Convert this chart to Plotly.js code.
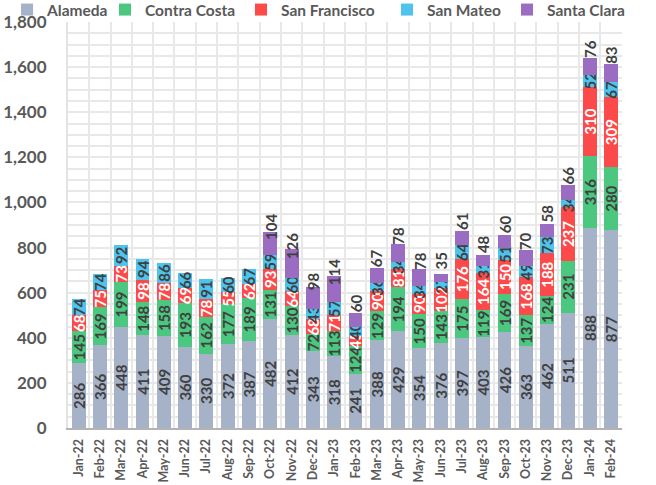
<!DOCTYPE html>
<html><head><meta charset="utf-8">
<script src="https://cdn.plot.ly/plotly-3.0.1.min.js"></script>
<style>html,body{margin:0;padding:0;background:#fff}#chart{width:656px;height:485px}</style>
</head><body><div id="chart"></div>
<script>
const months = ['Jan-22','Feb-22','Mar-22','Apr-22','May-22','Jun-22','Jul-22','Aug-22','Sep-22','Oct-22','Nov-22','Dec-22',
  'Jan-23','Feb-23','Mar-23','Apr-23','May-23','Jun-23','Jul-23','Aug-23','Sep-23','Oct-23','Nov-23','Dec-23','Jan-24','Feb-24'];
const alameda      = [286,366,448,411,409,360,330,372,387,482,412,343,318,241,388,429,354,376,397,403,426,363,462,511,888,877];
const contraCosta  = [145,169,199,148,158,193,162,177,189,131,130,72,113,124,129,194,150,143,175,119,169,137,124,231,316,280];
const sanFrancisco = [68,75,73,98,78,69,78,55,62,93,64,68,71,45,90,81,90,102,176,164,150,168,188,237,310,309];
const sanMateo     = [74,74,92,94,86,66,91,60,67,59,60,43,57,40,36,34,34,27,64,31,51,49,73,34,52,67];
const santaClara   = [null,null,null,null,null,null,null,null,null,104,126,98,114,60,67,78,78,35,61,48,60,70,58,66,76,83];

const seriesNames = ['Alameda','Contra Costa','San Francisco','San Mateo','Santa Clara'];
const series = [alameda, contraCosta, sanFrancisco, sanMateo, santaClara];
const colors = ['#a6b2c7','#4cc77f','#fc4a4a','#4dc3ee','#9a6cc2'];
const labelColors = ['#404040','#404040','#ffffff','#404040','#404040'];
const FONT = 'Lato, "Open Sans", sans-serif';
const legendX = [-0.110, 0.0668, 0.3123, 0.5758, 0.7924];
const legendIds = ['legend','legend2','legend3','legend4','legend5'];

const traces = series.map((vals, i) => {
  const t = {
    type: 'bar', name: seriesNames[i], x: months, y: vals,
    marker: {color: colors[i], line: {width: 0}},
    hoverinfo: 'skip',
    legend: legendIds[i]
  };
  if (i < 4) {
    t.text = vals.map(v => v == null ? '' : String(v));
    t.textposition = 'inside';
    t.insidetextanchor = 'middle';
    t.textangle = -90;
    t.constraintext = 'none';
    t.insidetextfont = {family: FONT, size: 15, color: labelColors[i], weight: 700};
  } else {
    t.textposition = 'none';
  }
  return t;
});

const annotations = [];
months.forEach((m, k) => {
  const v = santaClara[k];
  if (v == null) return;
  const base = alameda[k] + contraCosta[k] + sanFrancisco[k] + sanMateo[k];
  annotations.push({
    x: m, y: base + v / 2, xref: 'x', yref: 'y', yshift: 17,
    text: String(v), showarrow: false, textangle: -90,
    font: {family: FONT, size: 15, color: labelColors[4], weight: 700}
  });
});

const layout = {
  width: 656, height: 485,
  margin: {l: 68, r: 34, t: 22, b: 57, autoexpand: false},
  paper_bgcolor: '#ffffff', plot_bgcolor: '#ffffff',
  barmode: 'stack', bargap: 0.35,
  font: {family: FONT, color: '#595959'},
  showlegend: true,
  xaxis: {
    type: 'category', tickson: 'boundaries', showgrid: true, gridcolor: '#e8e8e8', gridwidth: 2,
    tickangle: -90, tickfont: {family: FONT, size: 12.5, weight: 700, color: '#595959'},
    showline: true, linecolor: '#b3b3b3', linewidth: 2, ticks: '', zeroline: false,
    ticklabelstandoff: 4, fixedrange: true
  },
  yaxis: {
    range: [0, 1800], dtick: 200, tickformat: ',d',
    showgrid: true, gridcolor: '#e8e8e8', gridwidth: 2,
    minor: {dtick: 50, showgrid: true, gridcolor: '#e8e8e8', gridwidth: 2},
    tickfont: {family: FONT, size: 17, weight: 700, color: '#595959'},
    showline: true, linecolor: '#e3e3e3', linewidth: 2, ticks: '', zeroline: false,
    ticklabelstandoff: 16, fixedrange: true
  },
  annotations: annotations
};
legendIds.forEach((id, i) => {
  layout[id] = {
    orientation: 'h', x: legendX[i], xanchor: 'left', y: 1.0296, yanchor: 'middle',
    font: {family: FONT, size: 15.5, weight: 700, color: '#595959'},
    bgcolor: 'rgba(0,0,0,0)', borderwidth: 0
  };
});

Plotly.newPlot('chart', traces, layout, {displayModeBar: false, staticPlot: true});
</script>
</body></html>
